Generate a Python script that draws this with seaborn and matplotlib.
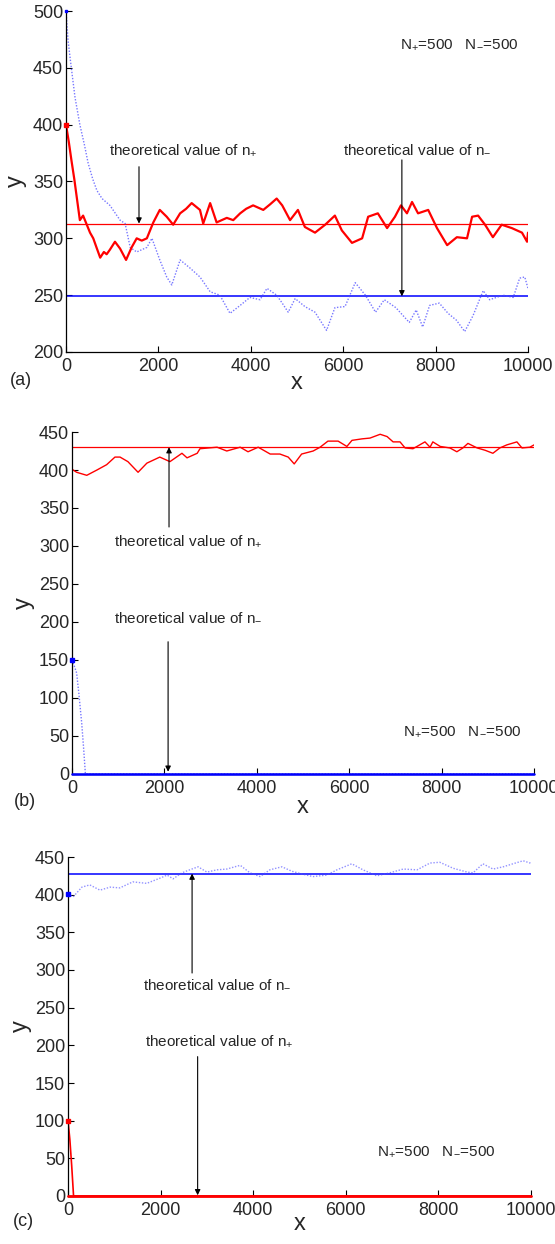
import matplotlib
matplotlib.use("Agg")
import matplotlib.pyplot as plt
import seaborn as sns

# ---------------- data ----------------
A_RED_X = [0, 60, 120, 180, 240, 300, 370, 450, 520, 590, 660, 740, 820, 880, 950, 1060, 1170, 1300, 1420, 1530,
           1640, 1750, 1890, 2030, 2180, 2320, 2470, 2600, 2720, 2900, 2970, 3120, 3260, 3480, 3620, 3770, 3900, 4050,
           4270, 4420, 4560, 4680, 4850, 5020, 5170, 5390, 5610, 5820, 5970, 6190, 6410, 6540, 6750, 6950, 7120, 7250,
           7380, 7490, 7620, 7840, 8030, 8250, 8460, 8680, 8790, 8920, 9070, 9240, 9430, 9650, 9870, 9980, 10000]
A_RED_Y = [400, 385, 368, 352, 334, 316, 320, 312, 305, 300, 292, 283, 288, 286, 290, 297, 291, 281, 292, 300,
           298, 300, 314, 325, 319, 312, 322, 326, 331, 325, 313, 331, 314, 318, 316, 322, 326, 329,
           325, 330, 335, 329, 316, 325, 310, 305, 312, 320, 307, 296, 300, 319, 322, 309, 319, 329,
           322, 332, 322, 325, 309, 294, 301, 300, 319, 320, 312, 301, 312, 309, 305, 297, 305]
A_BLUE_X = [0, 45, 100, 195, 300, 400, 480, 580, 670, 780, 950, 1170, 1280, 1390, 1530, 1750, 1860, 2030, 2180, 2290,
            2470, 2680, 2900, 3120, 3330, 3550, 3770, 3980, 4200, 4350, 4560, 4680, 4810, 4960, 5170, 5390, 5640, 5820,
            6040, 6260, 6480, 6700, 6890, 7140, 7430, 7580, 7720, 7870, 8080, 8270, 8450, 8630, 8810, 9030, 9170, 9460,
            9680, 9820, 9930, 10000]
A_BLUE_Y = [500, 474, 455, 424, 400, 382, 366, 352, 342, 335, 329, 316, 313, 292, 288, 292, 300, 281, 266, 259,
            281, 274, 266, 253, 250, 234, 241, 248, 246, 256, 250, 243, 235, 247, 240, 235, 219, 239,
            240, 261, 250, 235, 246, 239, 226, 237, 222, 241, 243, 234, 228, 218, 232, 254, 246, 250,
            248, 265, 266, 256]
A_THEORY_PLUS = 313
A_THEORY_MINUS = 249

B_RED_X = [0, 100, 320, 540, 750, 930, 1040, 1210, 1430, 1620, 1900, 2120, 2380, 2490, 2710, 2770, 3140, 3350, 3640,
           3810, 4030, 4290, 4500, 4680, 4810, 4970, 5220, 5370, 5540, 5760, 5950, 6060, 6280, 6450, 6670, 6820, 6950,
           7100, 7210, 7380, 7640, 7750, 7810, 7970, 8180, 8330, 8460, 8570, 8770, 8940, 9110, 9260, 9410, 9630, 9740,
           9910, 10000]
B_RED_Y = [401, 397, 393, 400, 407, 417, 417, 411, 397, 409, 417, 411, 422, 416, 422, 428, 430, 425, 430,
           424, 430, 421, 421, 417, 408, 421, 425, 430, 438, 438, 431, 439, 441, 442, 447, 444, 437,
           437, 429, 428, 437, 430, 437, 431, 429, 424, 429, 435, 429, 426, 422, 429, 433, 437, 429,
           430, 433]
B_BLUE_X = [0, 50, 100, 150, 210, 250, 290, 10000]
B_BLUE_Y = [150, 142, 133, 105, 67, 35, 0, 0]
B_THEORY_PLUS = 430
B_THEORY_MINUS = 0

C_BLUE_X = [0, 110, 300, 470, 690, 910, 1120, 1400, 1700, 1990, 2140, 2270, 2460, 2630, 2810, 3000, 3220, 3430, 3720,
            3930, 4150, 4360, 4620, 4840, 5080, 5290, 5590, 5810, 6130, 6370, 6670, 6950, 7240, 7540, 7820, 8030, 8320,
            8620, 8750, 8960, 9180, 9400, 9610, 9830, 9980, 10000]
C_BLUE_Y = [401, 397, 410, 413, 406, 410, 409, 417, 415, 422, 426, 421, 429, 433, 437, 430, 433, 434, 439,
            429, 424, 433, 437, 431, 427, 424, 426, 433, 441, 433, 425, 429, 434, 433, 442, 443, 435,
            430, 429, 441, 434, 437, 441, 445, 442, 440]
C_RED_X = [0, 40, 80, 120, 10000]
C_RED_Y = [100, 75, 40, 0, 0]
C_THEORY_MINUS = 428
C_THEORY_PLUS = 0

X_TICKS = [0, 2000, 4000, 6000, 8000, 10000]
YA_TICKS = [200, 250, 300, 350, 400, 450, 500]
YBC_TICKS = [0, 50, 100, 150, 200, 250, 300, 350, 400, 450]

# ---------------- style ----------------
sns.set_style("ticks")
plt.rcParams["font.family"] = ["Liberation Sans", "DejaVu Sans"]
plt.rcParams["mathtext.fontset"] = "custom"
plt.rcParams["mathtext.rm"] = "Liberation Sans"
plt.rcParams["mathtext.it"] = "Liberation Sans:italic"
plt.rcParams["mathtext.default"] = "regular"

RED = "#ff0000"
BLUE = "#0000ff"
DOT_BLUE = "#4a4aff"
TXT = "#262626"

fig = plt.figure(figsize=(5.55, 12.44), dpi=100)
ax_a = fig.add_axes([66/555, (1244-352)/1244, 462/555, 341/1244])
ax_b = fig.add_axes([72/555, (1244-774)/1244, 462/555, 342/1244])
ax_c = fig.add_axes([68/555, (1244-1196)/1244, 463/555, 339/1244])


def style_axes(ax, yticks, ylim, ylab_x, xlab_y):
    ax.set_xlim(0, 10000)
    ax.set_ylim(*ylim)
    ax.set_xticks(X_TICKS)
    ax.set_yticks(yticks)
    ax.tick_params(direction="in", length=4, width=0.8, colors="black",
                   labelcolor=TXT, labelsize=13, pad=2)
    ax.tick_params(axis="x", pad=4)
    for s in ["top", "right"]:
        ax.spines[s].set_visible(False)
    for s in ["left", "bottom"]:
        ax.spines[s].set_color("black")
        ax.spines[s].set_linewidth(0.9)
    ax.set_xlabel("x", fontsize=17, color=TXT)
    ax.set_ylabel("y", fontsize=17, color=TXT)
    ax.yaxis.set_label_coords(ylab_x, 0.5)
    ax.xaxis.set_label_coords(0.5, xlab_y)


def arrow(ax, x, y_tail, y_tip):
    ax.annotate("", xy=(x, y_tip), xytext=(x, y_tail),
                arrowprops=dict(arrowstyle="-|>", color="black", lw=0.8,
                                mutation_scale=8, shrinkA=0, shrinkB=0))


ann_kw = dict(fontsize=11, color=TXT, ha="left", va="baseline")

# ---------------- panel (a) ----------------
ax = ax_a
ax.axhline(A_THEORY_PLUS, color=RED, lw=0.9)
ax.axhline(A_THEORY_MINUS, color=BLUE, lw=1.1)
sns.lineplot(x=A_BLUE_X, y=A_BLUE_Y, ax=ax, color=DOT_BLUE, lw=1.0, linestyle=(0, (1, 1.2)),
             alpha=0.75, estimator=None, sort=False)
sns.lineplot(x=A_RED_X, y=A_RED_Y, ax=ax, color=RED, lw=1.6, estimator=None, sort=False)
ax.plot(A_RED_X[0], A_RED_Y[0], "s", color=RED, ms=2.5, clip_on=False, zorder=3)
ax.plot(A_BLUE_X[0], A_BLUE_Y[0], "s", color=BLUE, ms=2, clip_on=False, zorder=3)
style_axes(ax, YA_TICKS, (200, 500), -0.084, -0.06)
ax.text(930, 374, r"theoretical value of n$_{+}$", **ann_kw)
arrow(ax, 1580, 363, A_THEORY_PLUS)
ax.text(6000, 375, r"theoretical value of n$_{-}$", **ann_kw)
arrow(ax, 7270, 369, A_THEORY_MINUS)
ax.text(7230, 467, r"N$_{+}$=500   N$_{-}$=500", **ann_kw)

# ---------------- panel (b) ----------------
ax = ax_b
ax.axhline(B_THEORY_PLUS, color=RED, lw=0.9)
ax.axhline(B_THEORY_MINUS, color=BLUE, lw=1.8, clip_on=False, zorder=3)
sns.lineplot(x=B_BLUE_X, y=B_BLUE_Y, ax=ax, color=DOT_BLUE, lw=1.0, linestyle=(0, (1, 1.2)),
             alpha=0.75, estimator=None, sort=False)
sns.lineplot(x=B_RED_X, y=B_RED_Y, ax=ax, color=RED, lw=1.0, estimator=None, sort=False)
ax.plot(B_BLUE_X[0], B_BLUE_Y[0], "s", color=BLUE, ms=2.5, clip_on=False, zorder=3)
style_axes(ax, YBC_TICKS, (0, 450), -0.08, -0.064)
ax.text(910, 300, r"theoretical value of n$_{+}$", **ann_kw)
arrow(ax, 2100, 325, B_THEORY_PLUS)
ax.text(910, 201, r"theoretical value of n$_{-}$", **ann_kw)
arrow(ax, 2080, 174, 3)
ax.text(7160, 51, r"N$_{+}$=500   N$_{-}$=500", **ann_kw)

# ---------------- panel (c) ----------------
ax = ax_c
ax.axhline(C_THEORY_MINUS, color=BLUE, lw=1.1)
ax.axhline(C_THEORY_PLUS, color=RED, lw=2.0, clip_on=False, zorder=3)
sns.lineplot(x=C_BLUE_X, y=C_BLUE_Y, ax=ax, color=DOT_BLUE, lw=1.0, linestyle=(0, (1, 1.2)),
             alpha=0.6, estimator=None, sort=False)
sns.lineplot(x=C_RED_X, y=C_RED_Y, ax=ax, color=RED, lw=1.2, estimator=None, sort=False)
ax.plot(C_RED_X[0], C_RED_Y[0], "s", color=RED, ms=2.5, clip_on=False, zorder=3)
ax.plot(C_BLUE_X[0], C_BLUE_Y[0], "s", color=BLUE, ms=2.5, clip_on=False, zorder=3)
style_axes(ax, YBC_TICKS, (0, 450), -0.078, -0.05)
ax.text(1620, 276, r"theoretical value of n$_{-}$", **ann_kw)
arrow(ax, 2680, 296, C_THEORY_MINUS)
ax.text(1660, 199, r"theoretical value of n$_{+}$", **ann_kw)
arrow(ax, 2800, 185, 1)
ax.text(6670, 54, r"N$_{+}$=500   N$_{-}$=500", **ann_kw)

# panel letters
fig.text(10/555, 1 - 380/1244, "(a)", fontsize=13, color=TXT, ha="left", va="center")
fig.text(14/555, 1 - 802/1244, "(b)", fontsize=13, color=TXT, ha="left", va="center")
fig.text(13/555, 1 - 1222/1244, "(c)", fontsize=13, color=TXT, ha="left", va="center")

fig.savefig("out.png", dpi=100)
